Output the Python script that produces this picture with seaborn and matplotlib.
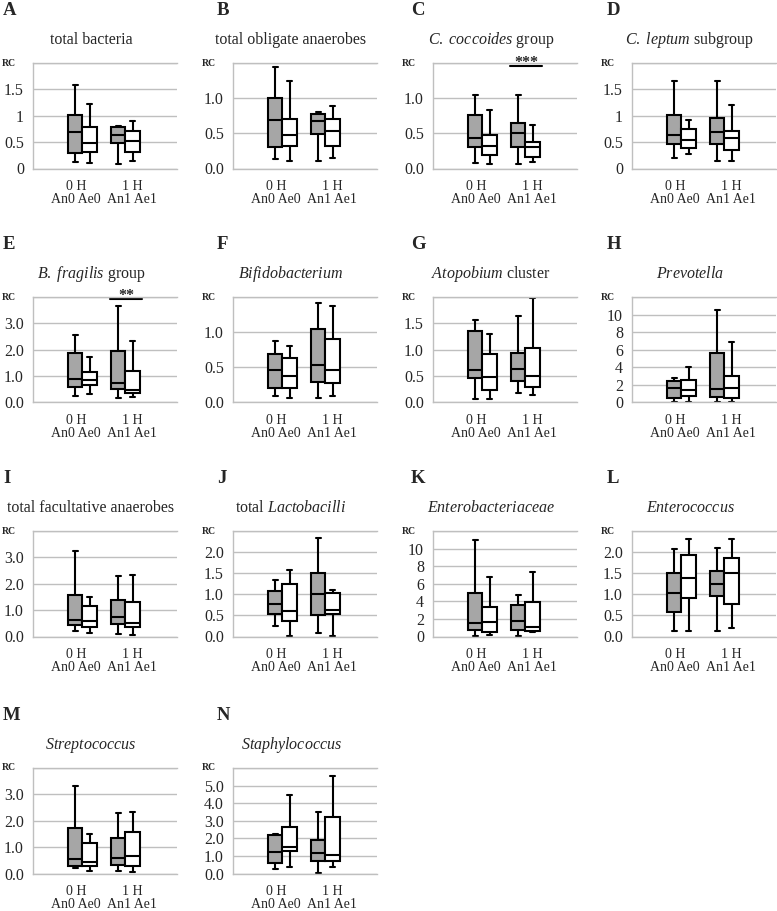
import numpy as np
import pandas as pd
import matplotlib

matplotlib.use('Agg')
import matplotlib.pyplot as plt
import seaborn as sns

# panel letters and titles
letters = list('ABCDEFGHIJKLMN')
titles = ['total bacteria', 'total obligate anaerobes',
          r'$\it{C.\ coccoides}$ group', r'$\it{C.\ leptum}$ subgroup',
          r'$\it{B.\ fragilis}$ group', r'$\it{Bifidobacterium}$',
          r'$\it{Atopobium}$ cluster', r'$\it{Prevotella}$',
          'total facultative anaerobes', r'total $\it{Lactobacilli}$',
          r'$\it{Enterobacteriaceae}$', r'$\it{Enterococcus}$',
          r'$\it{Streptococcus}$', r'$\it{Staphylococcus}$']

# box order: An0, Ae0, An1, Ae1 ; each = [low whisker, Q1, median, Q3, high whisker]
stats_A = [[0.13, 0.29, 0.69, 1.01, 1.59], [0.10, 0.31, 0.48, 0.79, 1.22],
           [0.09, 0.48, 0.64, 0.78, 0.81], [0.14, 0.31, 0.53, 0.72, 0.90]]
stats_B = [[0.13, 0.31, 0.69, 1.00, 1.45], [0.10, 0.32, 0.48, 0.70, 1.24],
           [0.10, 0.49, 0.67, 0.77, 0.81], [0.15, 0.32, 0.54, 0.70, 0.89]]
stats_C = [[0.08, 0.30, 0.43, 0.76, 1.05], [0.07, 0.19, 0.32, 0.47, 0.83],
           [0.06, 0.30, 0.51, 0.65, 1.05], [0.09, 0.16, 0.31, 0.38, 0.62]]
stats_D = [[0.20, 0.46, 0.64, 1.02, 1.66], [0.28, 0.39, 0.54, 0.75, 0.92],
           [0.15, 0.46, 0.69, 0.96, 1.65], [0.14, 0.36, 0.57, 0.72, 1.20]]
stats_E = [[0.25, 0.60, 0.88, 1.87, 2.55], [0.34, 0.67, 0.86, 1.16, 1.74],
           [0.18, 0.50, 0.75, 1.94, 3.65], [0.19, 0.36, 0.47, 1.18, 2.33]]
stats_F = [[0.09, 0.21, 0.46, 0.69, 0.88], [0.07, 0.21, 0.37, 0.63, 0.80],
           [0.07, 0.29, 0.54, 1.04, 1.42], [0.09, 0.28, 0.46, 0.90, 1.37]]
stats_G = [[0.06, 0.47, 0.61, 1.36, 1.57], [0.06, 0.23, 0.48, 0.91, 1.30],
           [0.18, 0.40, 0.64, 0.94, 1.64], [0.14, 0.30, 0.50, 1.03, 1.99]]
stats_H = [[0.07, 0.56, 1.68, 2.43, 2.80], [0.07, 0.78, 1.46, 2.61, 3.99],
           [0.07, 0.63, 1.49, 5.67, 10.5], [0.07, 0.49, 1.68, 3.06, 6.83]]
stats_I = [[0.21, 0.43, 0.64, 1.59, 3.25], [0.15, 0.37, 0.57, 1.15, 1.51],
           [0.09, 0.46, 0.73, 1.40, 2.29], [0.07, 0.37, 0.50, 1.29, 2.32]]
stats_J = [[0.25, 0.53, 0.78, 1.07, 1.35], [0.02, 0.37, 0.61, 1.25, 1.58],
           [0.09, 0.51, 1.00, 1.51, 2.34], [0.02, 0.53, 0.63, 1.02, 1.11]]
stats_K = [[0.07, 0.75, 1.57, 4.90, 11.0], [0.19, 0.56, 1.65, 3.33, 6.80],
           [0.07, 0.79, 1.76, 3.56, 4.68], [0.49, 0.64, 1.12, 3.90, 7.38]]
stats_L = [[0.12, 0.59, 1.03, 1.51, 2.08], [0.13, 0.92, 1.38, 1.92, 2.32],
           [0.13, 0.97, 1.24, 1.56, 2.09], [0.19, 0.77, 1.50, 1.86, 2.32]]
stats_M = [[0.19, 0.28, 0.56, 1.74, 3.33], [0.09, 0.28, 0.44, 1.14, 1.51],
           [0.08, 0.34, 0.60, 1.33, 2.31], [0.05, 0.29, 0.65, 1.57, 2.32]]
stats_N = [[0.26, 0.58, 1.22, 2.20, 2.26], [0.36, 1.30, 1.52, 2.67, 4.49],
           [0.02, 0.73, 1.17, 1.92, 3.52], [0.36, 0.73, 1.07, 3.23, 5.53]]
all_stats = [stats_A, stats_B, stats_C, stats_D, stats_E, stats_F, stats_G,
             stats_H, stats_I, stats_J, stats_K, stats_L, stats_M, stats_N]

# y axis: top of axis (labelled "RC") and numeric tick labels below it
y_max = [2.0, 1.5, 1.5, 2.0, 4.0, 1.5, 2.0, 12, 4.0, 2.5, 12, 2.5, 4.0, 6.0]
lab_a = ['0', '0.5', '1', '1.5']
lab_b = ['0.0', '0.5', '1.0']
lab_e = ['0.0', '1.0', '2.0', '3.0']
lab_g = ['0.0', '0.5', '1.0', '1.5']
lab_h = ['0', '2', '4', '6', '8', '10']
lab_j = ['0.0', '0.5', '1.0', '1.5', '2.0']
lab_n = ['0.0', '1.0', '2.0', '3.0', '4.0', '5.0']
y_labels = [lab_a, lab_b, lab_b, lab_a, lab_e, lab_b, lab_g, lab_h,
            lab_e, lab_j, lab_h, lab_j, lab_e, lab_n]

times = ['0 H', '0 H', '1 H', '1 H']
groups = ['An', 'Ae', 'An', 'Ae']
xtick_labels = ['0 H\nAn0 Ae0', '1 H\nAn1 Ae1']

# significance marks (panel -> (height, stars))
signif = {'C': (1.46, '***'), 'E': (3.92, '**')}

sns.set_style('white')
plt.rcParams['font.family'] = ['Liberation Serif', 'DejaVu Serif']
plt.rcParams['mathtext.fontset'] = 'custom'
plt.rcParams['mathtext.rm'] = 'Liberation Serif'
plt.rcParams['mathtext.it'] = 'Liberation Serif:italic'

W, H = 777, 911
fig = plt.figure(figsize=(W / 100, H / 100), dpi=100)

col_left = [33, 233, 433, 632]
row_top = [63, 297, 531, 768]
letter_x = [3, 217, 411, 607]
ax_w, ax_h = 144, 105.5
grid_col = '#bfbfbf'

for i, letter in enumerate(letters):
    r, c = divmod(i, 4)
    ax = fig.add_axes([col_left[c] / W, 1 - (row_top[r] + ax_h) / H, ax_w / W, ax_h / H])

    # each box is drawn from its five numbers; whiskers at min/max
    rows = []
    for t, g, st in zip(times, groups, all_stats[i]):
        for v in st:
            rows.append({'time': t, 'grp': g, 'rc': v})
    df = pd.DataFrame(rows)

    sns.boxplot(data=df, x='time', y='rc', hue='grp', hue_order=['An', 'Ae'],
                palette={'An': '#a6a6a6', 'Ae': 'white'}, saturation=1,
                whis=(0, 100), width=0.68, linecolor='black', linewidth=1.5,
                capwidths=0.12, legend=False, ax=ax)

    ymax = y_max[i]
    labs = y_labels[i]
    ticks = np.linspace(0, ymax, len(labs) + 1)
    ax.set_ylim(0, ymax)
    ax.set_yticks(ticks)
    ax.set_yticklabels(labs + [''])
    ax.set_xlim(-1.151, 2.198)
    ax.set_xticks([-0.15, 1.15])
    ax.set_xticklabels(xtick_labels, linespacing=1.0)
    ax.set_xlabel('')
    ax.set_ylabel('')
    ax.tick_params(axis='y', length=0, pad=6.5, labelsize=11.5)
    ax.tick_params(axis='x', length=0, pad=8.5, labelsize=10)

    ax.grid(axis='y', color=grid_col, linewidth=1.0)
    ax.set_axisbelow(True)
    for side in ['left', 'bottom', 'top']:
        ax.spines[side].set_color(grid_col)
        ax.spines[side].set_linewidth(1.0)
    ax.spines['right'].set_visible(False)

    ax.text(-0.118, 1.0, 'RC', transform=ax.transAxes, ha='right', va='center',
            fontsize=7, fontweight='bold')
    ax.text(0.403, 1.18, titles[i], transform=ax.transAxes, ha='center',
            va='baseline', fontsize=11.5)
    fig.text(letter_x[c] / W, 1 - (row_top[r] - 48) / H, letter,
             fontsize=13.5, fontweight='bold', va='baseline')

    if letter in signif:
        yv, stars = signif[letter]
        ax.plot([0.64, 1.38], [yv, yv], color='black', linewidth=1.5, clip_on=False)
        ax.annotate(stars, xy=(1.01, yv), xytext=(0, -1), textcoords='offset points',
                    ha='center', va='baseline', fontsize=11.5, fontweight='bold',
                    annotation_clip=False)

fig.savefig('out.png', dpi=100)
